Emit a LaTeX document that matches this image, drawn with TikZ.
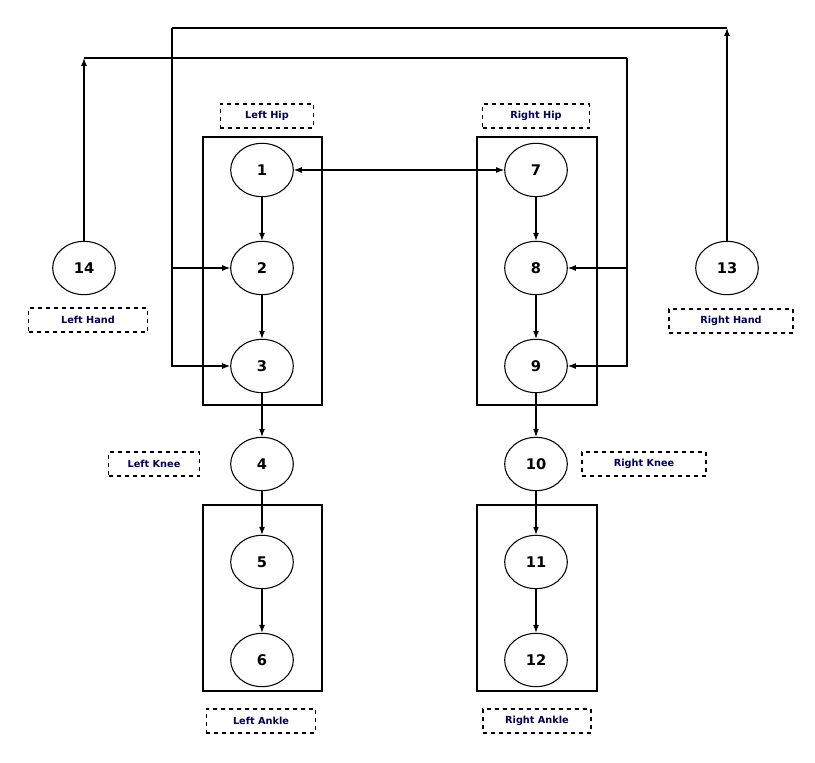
\documentclass[tikz,border=0pt]{standalone}
\usepackage{fontspec}
\setmainfont{DejaVu Sans}
\usetikzlibrary{shapes.geometric,arrows.meta}
\begin{document}
\begin{tikzpicture}[x=0.75pt,y=-0.75pt, line width=0.8pt,
  joint/.style = {draw, ellipse, minimum width=47pt, minimum height=40pt, inner sep=0pt, font=\bfseries\fontsize{11}{12}\selectfont},
  tag/.style = {draw, dashed, minimum height=18pt, inner sep=2pt, font=\bfseries\fontsize{7.3}{8}\selectfont, text=blue!30!black},
  >={Latex[length=6pt,width=4.5pt]}, node distance={73.5pt}]
\useasboundingbox (0,0) rectangle (815,763);
% joints
\node[joint] (1) at (262,170) {1};
\node[joint] (2) [below of=1] {2};
\node[joint] (3) [below of=2] {3};
\node[joint] (4) [below of=3] {4};
\node[joint] (5) [below of=4] {5};
\node[joint] (6) [below of=5] {6};
\node[joint] (7) at (536,170) {7};
\node[joint] (8) [below of=7] {8};
\node[joint] (9) [below of=8] {9};
\node[joint] (10) [below of=9] {10};
\node[joint] (11) [below of=10] {11};
\node[joint] (12) [below of=11] {12};
\node[joint] (14) at (84,268) {14};
\node[joint] (13) at (727,268) {13};
% boxes
\draw (203,137) rectangle (322,405);
\draw (477,137) rectangle (597,405);
\draw (203,505) rectangle (322,691);
\draw (477,505) rectangle (597,691);
% labels
\node[tag, minimum width=70pt] (lhip) at (267,116) {Left Hip};
\node[tag, minimum width=80pt] (rhip) at (536,116) {Right Hip};
\node[tag, minimum width=89pt] (lhand) at (88,320) {Left Hand};
\node[tag, minimum width=93pt] (rhand) at (731,321) {Right Hand};
\node[tag, minimum width=68pt] (lknee) at (154,464) {Left Knee};
\node[tag, minimum width=93pt] (rknee) at (644,464) {Right Knee};
\node[tag, minimum width=82pt] (lankle) at (261,721) {Left Ankle};
\node[tag, minimum width=81pt] (rankle) at (537,721) {Right Ankle};
% chains
\draw[<->] (1) -- (7);
\draw[->] (1) -- (2);
\draw[->] (2) -- (3);
\draw[->] (3) -- (4);
\draw[->] (4) -- (5);
\draw[->] (5) -- (6);
\draw[->] (7) -- (8);
\draw[->] (8) -- (9);
\draw[->] (9) -- (10);
\draw[->] (10) -- (11);
\draw[->] (11) -- (12);
% hands
\coordinate (t14) at (84,58);
\coordinate (c14) at (627,58);
\draw[->] (14) -- (t14);
\draw (t14) -- (c14);
\draw[->] (c14) |- (9);
\draw[->] (8 -| c14) -- (8);
\coordinate (t13) at (727,28);
\coordinate (c13) at (172,28);
\draw[->] (13) -- (t13);
\draw (t13) -- (c13);
\draw[->] (c13) |- (3);
\draw[->] (2 -| c13) -- (2);
\end{tikzpicture}
\end{document}
